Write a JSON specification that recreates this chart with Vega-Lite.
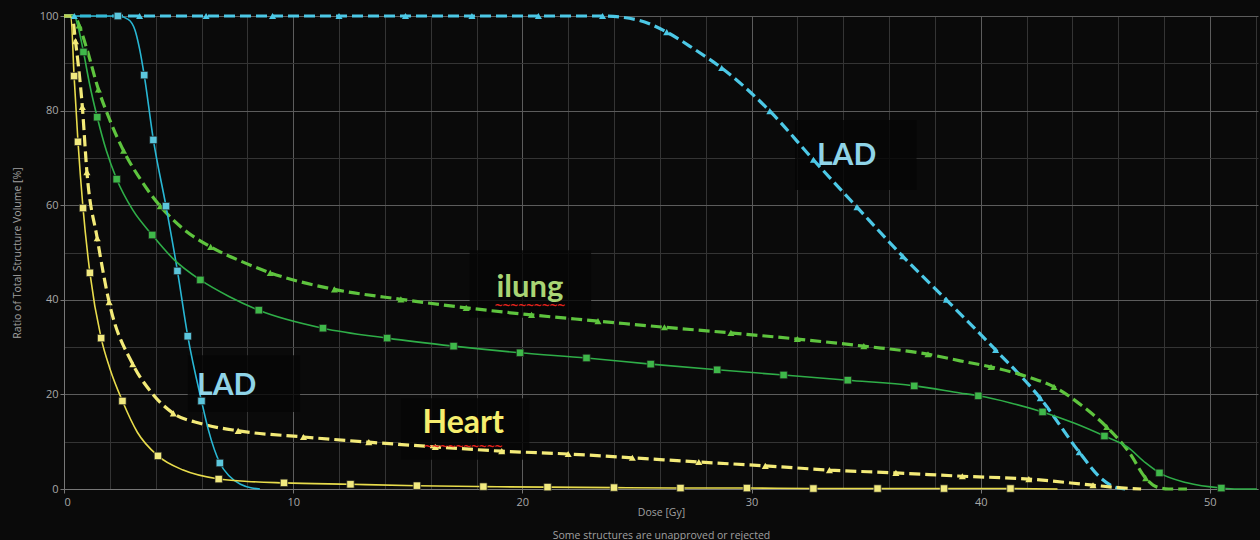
{
  "$schema": "https://vega.github.io/schema/vega-lite/v6.json",
  "width": 1194,
  "height": 473,
  "autosize": "none",
  "padding": {"left": 64, "top": 16, "right": 2, "bottom": 51},
  "background": "#0a0a0a",
  "config": {
    "view": {"stroke": null, "fill": "#0a0a0a"},
    "font": "Open Sans"
  },
  "resolve": {"scale": {"fill": "independent", "size": "independent"}},
  "datasets": {
    "curves": [
      {"s": "LAD1", "x": 0, "y": 100}, {"s": "LAD1", "x": 23.5, "y": 100}, {"s": "LAD1", "x": 25.0, "y": 99.2}, {"s": "LAD1", "x": 26.3, "y": 96.6}, {"s": "LAD1", "x": 27.5, "y": 93}, {"s": "LAD1", "x": 28.7, "y": 89}, {"s": "LAD1", "x": 30.8, "y": 79.9}, {"s": "LAD1", "x": 32.7, "y": 69.6}, {"s": "LAD1", "x": 34.6, "y": 59.6}, {"s": "LAD1", "x": 36.6, "y": 49.2}, {"s": "LAD1", "x": 38.5, "y": 40}, {"s": "LAD1", "x": 40.65, "y": 29.4}, {"s": "LAD1", "x": 42.6, "y": 19.2}, {"s": "LAD1", "x": 44.3, "y": 7.8}, {"s": "LAD1", "x": 45.2, "y": 2.5}, {"s": "LAD1", "x": 45.8, "y": 0.5}, {"s": "LAD1", "x": 46.3, "y": 0},
      {"s": "LAD2", "x": 0, "y": 100}, {"s": "LAD2", "x": 2.35, "y": 100}, {"s": "LAD2", "x": 2.8, "y": 99.3}, {"s": "LAD2", "x": 3.1, "y": 97}, {"s": "LAD2", "x": 3.3, "y": 93}, {"s": "LAD2", "x": 3.5, "y": 87.5}, {"s": "LAD2", "x": 3.9, "y": 73.8}, {"s": "LAD2", "x": 4.45, "y": 59.8}, {"s": "LAD2", "x": 4.95, "y": 46.1}, {"s": "LAD2", "x": 5.4, "y": 32.3}, {"s": "LAD2", "x": 6.0, "y": 18.6}, {"s": "LAD2", "x": 6.3, "y": 12.5}, {"s": "LAD2", "x": 6.8, "y": 5.5}, {"s": "LAD2", "x": 7.2, "y": 2.8}, {"s": "LAD2", "x": 7.7, "y": 1.0}, {"s": "LAD2", "x": 8.2, "y": 0.2}, {"s": "LAD2", "x": 8.55, "y": 0},
      {"s": "Lung1", "x": 0, "y": 100}, {"s": "Lung1", "x": 0.45, "y": 100}, {"s": "Lung1", "x": 0.66, "y": 98}, {"s": "Lung1", "x": 1.0, "y": 93}, {"s": "Lung1", "x": 1.5, "y": 84.5}, {"s": "Lung1", "x": 2.0, "y": 78}, {"s": "Lung1", "x": 2.6, "y": 71.5}, {"s": "Lung1", "x": 3.4, "y": 65}, {"s": "Lung1", "x": 4.2, "y": 59.8}, {"s": "Lung1", "x": 5.2, "y": 55}, {"s": "Lung1", "x": 6.4, "y": 51.2}, {"s": "Lung1", "x": 7.7, "y": 48.2}, {"s": "Lung1", "x": 9.0, "y": 45.7}, {"s": "Lung1", "x": 11.8, "y": 42.2}, {"s": "Lung1", "x": 14.7, "y": 40.1}, {"s": "Lung1", "x": 17.55, "y": 38.3}, {"s": "Lung1", "x": 20.4, "y": 36.8}, {"s": "Lung1", "x": 23.3, "y": 35.5}, {"s": "Lung1", "x": 26.2, "y": 34.2}, {"s": "Lung1", "x": 29.1, "y": 33.0}, {"s": "Lung1", "x": 32.0, "y": 31.7}, {"s": "Lung1", "x": 34.9, "y": 30.2}, {"s": "Lung1", "x": 37.7, "y": 28.5}, {"s": "Lung1", "x": 39.1, "y": 27.1}, {"s": "Lung1", "x": 40.45, "y": 25.8}, {"s": "Lung1", "x": 42.0, "y": 23.8}, {"s": "Lung1", "x": 43.2, "y": 21.6}, {"s": "Lung1", "x": 44.5, "y": 17.3}, {"s": "Lung1", "x": 45.5, "y": 13.1}, {"s": "Lung1", "x": 46.5, "y": 7.6}, {"s": "Lung1", "x": 47.2, "y": 2.3}, {"s": "Lung1", "x": 47.7, "y": 0.4}, {"s": "Lung1", "x": 48.2, "y": 0}, {"s": "Lung1", "x": 49.0, "y": 0},
      {"s": "Lung2", "x": 0, "y": 100}, {"s": "Lung2", "x": 0.45, "y": 100}, {"s": "Lung2", "x": 0.6, "y": 98}, {"s": "Lung2", "x": 0.85, "y": 92.4}, {"s": "Lung2", "x": 1.1, "y": 86}, {"s": "Lung2", "x": 1.45, "y": 78.6}, {"s": "Lung2", "x": 1.85, "y": 71.5}, {"s": "Lung2", "x": 2.3, "y": 65.5}, {"s": "Lung2", "x": 3.0, "y": 59}, {"s": "Lung2", "x": 3.85, "y": 53.7}, {"s": "Lung2", "x": 4.8, "y": 48.5}, {"s": "Lung2", "x": 5.95, "y": 44.2}, {"s": "Lung2", "x": 7.2, "y": 40.7}, {"s": "Lung2", "x": 8.5, "y": 37.8}, {"s": "Lung2", "x": 11.3, "y": 34}, {"s": "Lung2", "x": 14.1, "y": 31.9}, {"s": "Lung2", "x": 17.0, "y": 30.2}, {"s": "Lung2", "x": 19.9, "y": 28.8}, {"s": "Lung2", "x": 22.8, "y": 27.7}, {"s": "Lung2", "x": 25.6, "y": 26.4}, {"s": "Lung2", "x": 28.5, "y": 25.2}, {"s": "Lung2", "x": 31.4, "y": 24.1}, {"s": "Lung2", "x": 34.2, "y": 23.0}, {"s": "Lung2", "x": 37.1, "y": 21.8}, {"s": "Lung2", "x": 39.1, "y": 20.3}, {"s": "Lung2", "x": 39.9, "y": 19.7}, {"s": "Lung2", "x": 41.3, "y": 18.2}, {"s": "Lung2", "x": 42.7, "y": 16.3}, {"s": "Lung2", "x": 44.1, "y": 13.9}, {"s": "Lung2", "x": 45.4, "y": 11.2}, {"s": "Lung2", "x": 46.4, "y": 8.9}, {"s": "Lung2", "x": 47.2, "y": 5.5}, {"s": "Lung2", "x": 47.8, "y": 3.4}, {"s": "Lung2", "x": 49.0, "y": 1.3}, {"s": "Lung2", "x": 50.5, "y": 0.2}, {"s": "Lung2", "x": 51.2, "y": 0}, {"s": "Lung2", "x": 52.05, "y": 0},
      {"s": "Heart1", "x": 0, "y": 100}, {"s": "Heart1", "x": 0.35, "y": 100}, {"s": "Heart1", "x": 0.5, "y": 94.7}, {"s": "Heart1", "x": 0.8, "y": 80.8}, {"s": "Heart1", "x": 1.0, "y": 67}, {"s": "Heart1", "x": 1.45, "y": 53}, {"s": "Heart1", "x": 1.97, "y": 39.5}, {"s": "Heart1", "x": 3.0, "y": 26.4}, {"s": "Heart1", "x": 3.8, "y": 20.5}, {"s": "Heart1", "x": 4.77, "y": 16}, {"s": "Heart1", "x": 6.0, "y": 13.8}, {"s": "Heart1", "x": 7.6, "y": 12.3}, {"s": "Heart1", "x": 10.45, "y": 11}, {"s": "Heart1", "x": 13.3, "y": 9.9}, {"s": "Heart1", "x": 16.2, "y": 8.9}, {"s": "Heart1", "x": 19.1, "y": 8.0}, {"s": "Heart1", "x": 22.0, "y": 7.4}, {"s": "Heart1", "x": 24.8, "y": 6.6}, {"s": "Heart1", "x": 27.7, "y": 5.7}, {"s": "Heart1", "x": 30.6, "y": 4.9}, {"s": "Heart1", "x": 33.4, "y": 4.0}, {"s": "Heart1", "x": 36.3, "y": 3.4}, {"s": "Heart1", "x": 39.2, "y": 2.7}, {"s": "Heart1", "x": 42.1, "y": 2.1}, {"s": "Heart1", "x": 44.9, "y": 0.8}, {"s": "Heart1", "x": 46.0, "y": 0.3}, {"s": "Heart1", "x": 47.0, "y": 0},
      {"s": "Heart2", "x": 0, "y": 100}, {"s": "Heart2", "x": 0.3, "y": 100}, {"s": "Heart2", "x": 0.44, "y": 87.3}, {"s": "Heart2", "x": 0.61, "y": 73.4}, {"s": "Heart2", "x": 0.83, "y": 59.4}, {"s": "Heart2", "x": 1.13, "y": 45.7}, {"s": "Heart2", "x": 1.62, "y": 31.9}, {"s": "Heart2", "x": 2.0, "y": 25.5}, {"s": "Heart2", "x": 2.55, "y": 18.6}, {"s": "Heart2", "x": 3.2, "y": 12}, {"s": "Heart2", "x": 4.1, "y": 7.0}, {"s": "Heart2", "x": 5.2, "y": 4.0}, {"s": "Heart2", "x": 6.75, "y": 2.1}, {"s": "Heart2", "x": 8.0, "y": 1.6}, {"s": "Heart2", "x": 9.6, "y": 1.3}, {"s": "Heart2", "x": 12.5, "y": 1.0}, {"s": "Heart2", "x": 15.4, "y": 0.7}, {"s": "Heart2", "x": 18.3, "y": 0.5}, {"s": "Heart2", "x": 21.1, "y": 0.4}, {"s": "Heart2", "x": 24.0, "y": 0.3}, {"s": "Heart2", "x": 26.9, "y": 0.2}, {"s": "Heart2", "x": 29.8, "y": 0.2}, {"s": "Heart2", "x": 32.7, "y": 0.1}, {"s": "Heart2", "x": 35.5, "y": 0.1}, {"s": "Heart2", "x": 38.4, "y": 0.1}, {"s": "Heart2", "x": 41.3, "y": 0.1}, {"s": "Heart2", "x": 43.35, "y": 0}
    ],
    "markers": [
      {"s": "LAD1", "x": 0.45, "y": 100}, {"s": "LAD1", "x": 3.3, "y": 100}, {"s": "LAD1", "x": 6.2, "y": 100}, {"s": "LAD1", "x": 9.1, "y": 100}, {"s": "LAD1", "x": 12.0, "y": 100}, {"s": "LAD1", "x": 14.9, "y": 100}, {"s": "LAD1", "x": 17.8, "y": 100}, {"s": "LAD1", "x": 20.7, "y": 100}, {"s": "LAD1", "x": 23.5, "y": 100}, {"s": "LAD1", "x": 26.3, "y": 96.6}, {"s": "LAD1", "x": 28.7, "y": 89}, {"s": "LAD1", "x": 30.8, "y": 79.9}, {"s": "LAD1", "x": 32.7, "y": 69.6}, {"s": "LAD1", "x": 34.6, "y": 59.6}, {"s": "LAD1", "x": 36.6, "y": 49.2}, {"s": "LAD1", "x": 38.5, "y": 40}, {"s": "LAD1", "x": 40.65, "y": 29.4}, {"s": "LAD1", "x": 42.6, "y": 19.2}, {"s": "LAD1", "x": 44.3, "y": 7.8},
      {"s": "LAD2", "x": 2.35, "y": 100}, {"s": "LAD2", "x": 3.5, "y": 87.5}, {"s": "LAD2", "x": 3.9, "y": 73.8}, {"s": "LAD2", "x": 4.45, "y": 59.8}, {"s": "LAD2", "x": 4.95, "y": 46.1}, {"s": "LAD2", "x": 5.4, "y": 32.3}, {"s": "LAD2", "x": 6.0, "y": 18.6}, {"s": "LAD2", "x": 6.8, "y": 5.5},
      {"s": "Lung1", "x": 0.66, "y": 98}, {"s": "Lung1", "x": 1.5, "y": 84.5}, {"s": "Lung1", "x": 2.6, "y": 71.5}, {"s": "Lung1", "x": 4.2, "y": 59.8}, {"s": "Lung1", "x": 6.4, "y": 51.2}, {"s": "Lung1", "x": 9.0, "y": 45.7}, {"s": "Lung1", "x": 11.8, "y": 42.2}, {"s": "Lung1", "x": 14.7, "y": 40.1}, {"s": "Lung1", "x": 17.55, "y": 38.3}, {"s": "Lung1", "x": 20.4, "y": 36.8}, {"s": "Lung1", "x": 23.3, "y": 35.5}, {"s": "Lung1", "x": 26.2, "y": 34.2}, {"s": "Lung1", "x": 29.1, "y": 33.0}, {"s": "Lung1", "x": 32.0, "y": 31.7}, {"s": "Lung1", "x": 34.9, "y": 30.2}, {"s": "Lung1", "x": 37.7, "y": 28.5}, {"s": "Lung1", "x": 40.45, "y": 25.8}, {"s": "Lung1", "x": 43.2, "y": 21.6}, {"s": "Lung1", "x": 45.5, "y": 13.1}, {"s": "Lung1", "x": 47.2, "y": 2.3},
      {"s": "Lung2", "x": 0.85, "y": 92.4}, {"s": "Lung2", "x": 1.45, "y": 78.6}, {"s": "Lung2", "x": 2.3, "y": 65.5}, {"s": "Lung2", "x": 3.85, "y": 53.7}, {"s": "Lung2", "x": 5.95, "y": 44.2}, {"s": "Lung2", "x": 8.5, "y": 37.8}, {"s": "Lung2", "x": 11.3, "y": 34}, {"s": "Lung2", "x": 14.1, "y": 31.9}, {"s": "Lung2", "x": 17.0, "y": 30.2}, {"s": "Lung2", "x": 19.9, "y": 28.8}, {"s": "Lung2", "x": 22.8, "y": 27.7}, {"s": "Lung2", "x": 25.6, "y": 26.4}, {"s": "Lung2", "x": 28.5, "y": 25.2}, {"s": "Lung2", "x": 31.4, "y": 24.1}, {"s": "Lung2", "x": 34.2, "y": 23.0}, {"s": "Lung2", "x": 37.1, "y": 21.8}, {"s": "Lung2", "x": 39.9, "y": 19.7}, {"s": "Lung2", "x": 42.7, "y": 16.3}, {"s": "Lung2", "x": 45.4, "y": 11.2}, {"s": "Lung2", "x": 47.8, "y": 3.4}, {"s": "Lung2", "x": 50.5, "y": 0.2},
      {"s": "Heart1", "x": 0.5, "y": 94.7}, {"s": "Heart1", "x": 0.8, "y": 80.8}, {"s": "Heart1", "x": 1.0, "y": 67}, {"s": "Heart1", "x": 1.45, "y": 53}, {"s": "Heart1", "x": 1.97, "y": 39.5}, {"s": "Heart1", "x": 3.0, "y": 26.4}, {"s": "Heart1", "x": 4.77, "y": 16}, {"s": "Heart1", "x": 7.6, "y": 12.3}, {"s": "Heart1", "x": 10.45, "y": 11}, {"s": "Heart1", "x": 13.3, "y": 9.9}, {"s": "Heart1", "x": 16.2, "y": 8.9}, {"s": "Heart1", "x": 19.1, "y": 8.0}, {"s": "Heart1", "x": 22.0, "y": 7.4}, {"s": "Heart1", "x": 24.8, "y": 6.6}, {"s": "Heart1", "x": 27.7, "y": 5.7}, {"s": "Heart1", "x": 30.6, "y": 4.9}, {"s": "Heart1", "x": 33.4, "y": 4.0}, {"s": "Heart1", "x": 36.3, "y": 3.4}, {"s": "Heart1", "x": 39.2, "y": 2.7}, {"s": "Heart1", "x": 42.1, "y": 2.1}, {"s": "Heart1", "x": 44.9, "y": 0.8},
      {"s": "Heart2", "x": 0.44, "y": 87.3}, {"s": "Heart2", "x": 0.61, "y": 73.4}, {"s": "Heart2", "x": 0.83, "y": 59.4}, {"s": "Heart2", "x": 1.13, "y": 45.7}, {"s": "Heart2", "x": 1.62, "y": 31.9}, {"s": "Heart2", "x": 2.55, "y": 18.6}, {"s": "Heart2", "x": 4.1, "y": 7.0}, {"s": "Heart2", "x": 6.75, "y": 2.1}, {"s": "Heart2", "x": 9.6, "y": 1.3}, {"s": "Heart2", "x": 12.5, "y": 1.0}, {"s": "Heart2", "x": 15.4, "y": 0.7}, {"s": "Heart2", "x": 18.3, "y": 0.5}, {"s": "Heart2", "x": 21.1, "y": 0.4}, {"s": "Heart2", "x": 24.0, "y": 0.3}, {"s": "Heart2", "x": 26.9, "y": 0.2}, {"s": "Heart2", "x": 29.8, "y": 0.2}, {"s": "Heart2", "x": 32.7, "y": 0.1}, {"s": "Heart2", "x": 35.5, "y": 0.1}, {"s": "Heart2", "x": 38.4, "y": 0.1}, {"s": "Heart2", "x": 41.3, "y": 0.1}
    ],
    "labels": [
      {"label": "LAD", "x": 34.15, "y": 68.5, "x1": 31.9, "x2": 37.2, "y1": 63.2, "y2": 78.0},
      {"label": "LAD", "x": 7.1, "y": 19.9, "x1": 5.4, "x2": 10.3, "y1": 16.3, "y2": 28.3},
      {"label": "ilung", "x": 20.33, "y": 40.6, "x1": 17.7, "x2": 23.0, "y1": 36.2, "y2": 50.5},
      {"label": "Heart", "x": 17.42, "y": 11.8, "x1": 14.7, "x2": 20.3, "y1": 6.2, "y2": 19.2}
    ],
    "squiggles": [
      {"mark": "~~~~~~~~~", "x": 20.33, "y": 38.9},
      {"mark": "~~~~~~~~~~", "x": 17.42, "y": 9.1}
    ]
  },
  "layer": [
    {
      "data": {"name": "labels"},
      "mark": {"type": "rect", "fill": "#050505", "opacity": 0.8},
      "encoding": {
        "x": {
          "field": "x1", "type": "quantitative",
          "scale": {"domain": [0, 52.1], "nice": false, "zero": false},
          "axis": {
            "values": [0,1,2,3,4,5,6,7,8,9,10,11,12,13,14,15,16,17,18,19,20,21,22,23,24,25,26,27,28,29,30,31,32,33,34,35,36,37,38,39,40,41,42,43,44,45,46,47,48,49,50,51,52],
            "labelExpr": "datum.value % 10 === 0 ? datum.label : ''",
            "grid": true,
            "gridColor": {"condition": {"test": "datum.value % 10 === 0", "value": "#5c5c5c"}, "value": "#343434"},
            "gridWidth": 1,
            "domainColor": "#777777",
            "ticks": true,
            "tickSize": 4,
            "tickColor": "#777777",
            "tickOpacity": {"condition": {"test": "datum.value % 10 === 0", "value": 1}, "value": 0},
            "labelColor": "#a8a8a8",
            "labelFontSize": 11,
            "labelPadding": 3,
            "labelFont": "Open Sans",
            "title": ["Dose [Gy]", "Some structures are unapproved or rejected"],
            "titleColor": "#a0a0a0",
            "titleFontSize": 10.5,
            "titleFontWeight": "normal",
            "titleFont": "Open Sans",
            "titleLineHeight": 23,
            "titlePadding": 0
          }
        },
        "x2": {"field": "x2"},
        "y": {
          "field": "y1", "type": "quantitative",
          "scale": {"domain": [0, 100], "nice": false},
          "axis": {
            "values": [0,5,10,15,20,25,30,35,40,45,50,55,60,65,70,75,80,85,90,95,100],
            "labelExpr": "datum.value % 20 === 0 ? datum.label : ''",
            "grid": true,
            "gridColor": {"condition": {"test": "datum.value % 20 === 0", "value": "#5c5c5c"}, "value": "#343434"},
            "domainColor": "#777777",
            "tickSize": 4,
            "tickColor": "#777777",
            "tickOpacity": {"condition": {"test": "datum.value % 20 === 0", "value": 1}, "value": 0},
            "labelColor": "#a8a8a8",
            "labelFontSize": 11,
            "labelPadding": 2,
            "labelFont": "Open Sans",
            "title": "Ratio of Total Structure Volume [%]",
            "titleColor": "#a0a0a0",
            "titleFontSize": 10.5,
            "titleFontWeight": "normal",
            "titleFont": "Open Sans",
            "titlePadding": 17
          }
        },
        "y2": {"field": "y2"}
      }
    },
    {
      "data": {"name": "curves"},
      "transform": [{"filter": "indexof(['LAD1','Lung1','Heart1'], datum.s) >= 0"}],
      "mark": {"type": "line", "interpolate": "monotone", "strokeWidth": 3.2, "strokeDash": [11, 5]},
      "encoding": {
        "x": {"field": "x", "type": "quantitative"},
        "y": {"field": "y", "type": "quantitative"},
        "detail": {"field": "s"},
        "color": {"field": "s", "type": "nominal", "legend": null,
          "scale": {"domain": ["LAD1", "LAD2", "Lung1", "Lung2", "Heart1", "Heart2"], "range": ["#4cc8e6", "#28b7d4", "#5ec43e", "#2fae48", "#f3ea78", "#e8dc4c"]}}
      }
    },
    {
      "data": {"name": "curves"},
      "transform": [{"filter": "indexof(['LAD2','Lung2','Heart2'], datum.s) >= 0"}],
      "mark": {"type": "line", "interpolate": "monotone", "strokeWidth": 1.6},
      "encoding": {
        "x": {"field": "x", "type": "quantitative"},
        "y": {"field": "y", "type": "quantitative"},
        "detail": {"field": "s"},
        "color": {"field": "s", "type": "nominal", "legend": null}
      }
    },
    {
      "data": {"name": "markers"},
      "transform": [{"filter": "indexof(['LAD1','Lung1','Heart1'], datum.s) >= 0"}],
      "mark": {"type": "point", "shape": "triangle-up", "filled": true, "size": 50, "opacity": 1},
      "encoding": {
        "x": {"field": "x", "type": "quantitative"},
        "y": {"field": "y", "type": "quantitative"},
        "color": {"field": "s", "type": "nominal", "legend": null}
      }
    },
    {
      "data": {"name": "markers"},
      "transform": [{"filter": "indexof(['LAD2','Lung2','Heart2'], datum.s) >= 0"}],
      "mark": {"type": "point", "shape": "square", "filled": true, "size": 55, "opacity": 1, "stroke": "#1c1c1c", "strokeWidth": 0.7},
      "encoding": {
        "x": {"field": "x", "type": "quantitative"},
        "y": {"field": "y", "type": "quantitative"},
        "fill": {"field": "s", "type": "nominal", "legend": null,
          "scale": {"domain": ["LAD2", "Lung2", "Heart2"], "range": ["#5cc6dc", "#3fb84a", "#f2ea80"]}}
      }
    },
    {
      "data": {"name": "labels"},
      "mark": {"type": "text", "font": "Lato", "fontWeight": "bold", "align": "center", "baseline": "alphabetic"},
      "encoding": {
        "x": {"field": "x", "type": "quantitative"},
        "y": {"field": "y", "type": "quantitative"},
        "text": {"field": "label"},
        "size": {"field": "label", "type": "nominal", "legend": null,
          "scale": {"domain": ["LAD", "ilung", "Heart"], "range": [30, 32, 31]}},
        "fill": {"field": "label", "type": "nominal", "legend": null,
          "scale": {"domain": ["LAD", "ilung", "Heart"], "range": ["#8fd4e8", "#a9d574", "#f6ee6e"]}}
      }
    },
    {
      "data": {"name": "squiggles"},
      "mark": {"type": "text", "font": "DejaVu Sans Mono", "fontSize": 13, "fontWeight": "bold", "color": "#e2231d", "align": "center", "baseline": "middle"},
      "encoding": {
        "x": {"field": "x", "type": "quantitative"},
        "y": {"field": "y", "type": "quantitative"},
        "text": {"field": "mark"}
      }
    }
  ]
}
